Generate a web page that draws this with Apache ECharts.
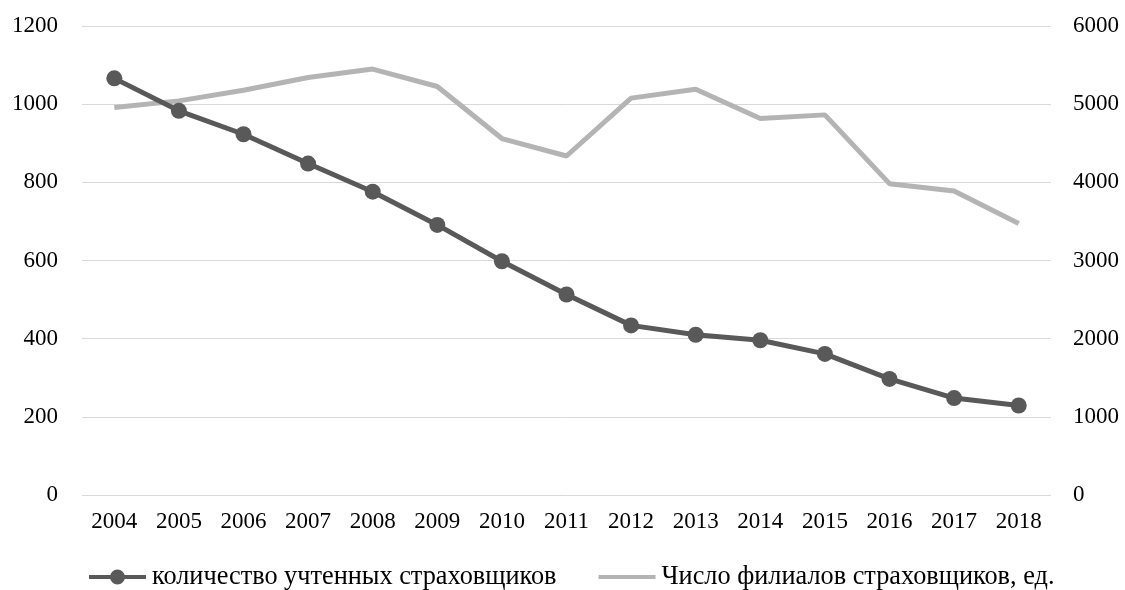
<!DOCTYPE html>
<html>
<head>
<meta charset="utf-8">
<script src="https://cdn.jsdelivr.net/npm/echarts@6/dist/echarts.min.js"></script>
<style>
  html, body { margin: 0; padding: 0; background: #fff; }
  #main { width: 1125px; height: 590px; }
</style>
</head>
<body>
<div id="main"></div>
<script>
const years = ['2004', '2005', '2006', '2007', '2008', '2009', '2010', '2011',
  '2012', '2013', '2014', '2015', '2016', '2017', '2018'];
const insurers = [1066, 983, 923, 848, 776, 691, 598, 513, 434, 410, 396, 361, 297, 248, 229];
const branches = [4957, 5042, 5179, 5342, 5449, 5226, 4560, 4337, 5077, 5192, 4816, 4863, 3983, 3889, 3474];
const leftTicks = [0, 1200, 200];
const rightTicks = [0, 6000, 1000];

const font = 'Liberation Serif';
const dark = '#595959';
const light = '#b4b4b4';

// legend icons: same 57x15 box so both scale alike
const darkIcon = 'path://M0,5.5H22V9.5H0Z M35,5.5H57V9.5H35Z M21,7.5a7.5,7.5 0 1,1 15,0a7.5,7.5 0 1,1 -15,0Z';
const lightIcon = 'path://M0,5.5H57V9.5H0Z M0,0H0.01V15H0Z';

const chart = echarts.init(document.getElementById('main'));
chart.setOption({
  animation: false,
  textStyle: { fontFamily: font },
  grid: { left: 82, right: 74, top: 26, bottom: 95, containLabel: false },
  legend: {
    top: 564,
    left: 89,
    padding: 0,
    itemWidth: 57,
    itemHeight: 15,
    itemGap: 42,
    textStyle: { fontFamily: font, fontSize: 26.3, color: '#000', padding: [0, 0, 0, 1] },
    data: [
      { name: 'количество учтенных страховщиков', icon: darkIcon, itemStyle: { color: dark } },
      { name: 'Число филиалов страховщиков, ед.', icon: lightIcon, itemStyle: { color: light } }
    ]
  },
  xAxis: {
    type: 'category',
    data: years,
    axisLine: { show: false },
    axisTick: { show: false },
    axisLabel: { color: '#000', fontSize: 23, fontFamily: font, margin: 15 }
  },
  yAxis: [
    {
      type: 'value',
      min: leftTicks[0], max: leftTicks[1], interval: leftTicks[2],
      axisLabel: { color: '#000', fontSize: 23, fontFamily: font, margin: 24, formatter: v => String(v) },
      splitLine: { lineStyle: { color: '#d9d9d9', width: 1 } }
    },
    {
      type: 'value',
      min: rightTicks[0], max: rightTicks[1], interval: rightTicks[2],
      axisLabel: { color: '#000', fontSize: 23, fontFamily: font, margin: 22, formatter: v => String(v) },
      splitLine: { show: false }
    }
  ],
  series: [
    {
      name: 'Число филиалов страховщиков, ед.',
      type: 'line',
      yAxisIndex: 1,
      data: branches,
      symbol: 'none',
      lineStyle: { color: light, width: 5 },
      itemStyle: { color: light }
    },
    {
      name: 'количество учтенных страховщиков',
      type: 'line',
      yAxisIndex: 0,
      data: insurers,
      symbol: 'circle',
      symbolSize: 16,
      lineStyle: { color: dark, width: 5 },
      itemStyle: { color: dark }
    }
  ]
});
</script>
</body>
</html>
